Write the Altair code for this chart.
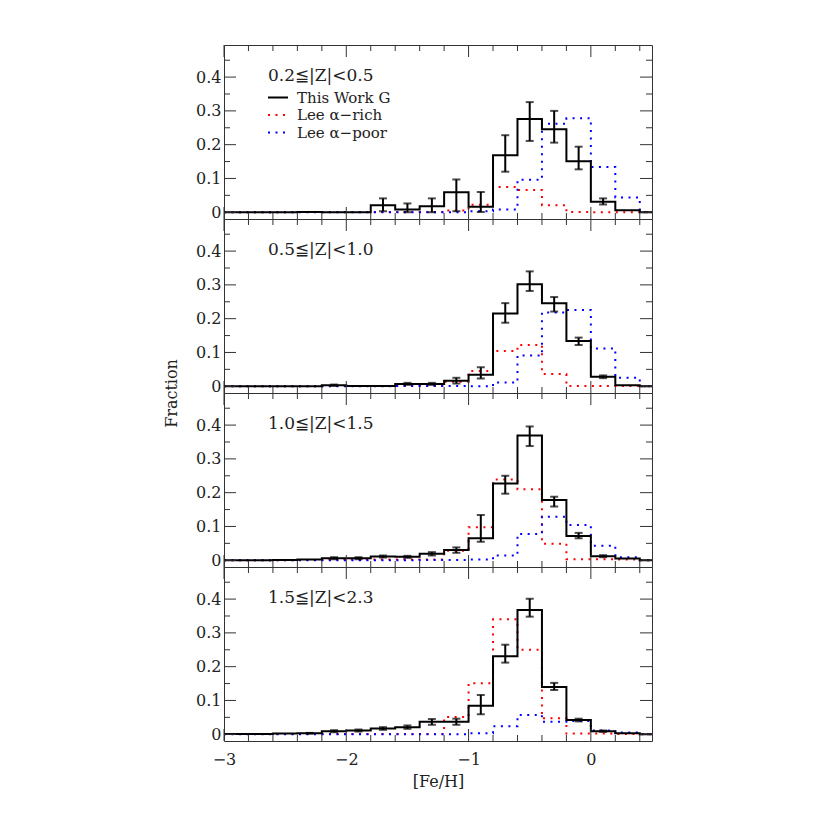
import altair as alt
import pandas as pd

# ---------------- data ----------------
bin_left = [-3.0, -2.8, -2.6, -2.4, -2.2, -2.0, -1.8, -1.6, -1.4, -1.2,
            -1.0, -0.8, -0.6, -0.4, -0.2, 0.0, 0.2]
bin_width = 0.2
x_end = [0.4, 0.5]

panel_labels = ["0.2≦|Z|<0.5", "0.5≦|Z|<1.0", "1.0≦|Z|<1.5", "1.5≦|Z|<2.3"]

work_g = [
    [0, 0, 0, 0.001, 0, 0, 0.021, 0.008, 0.018, 0.059, 0.016, 0.169, 0.276, 0.246, 0.151, 0.031, 0.006],
    [0, 0, 0, 0, 0.003, 0.001, 0.001, 0.007, 0.007, 0.016, 0.034, 0.215, 0.302, 0.246, 0.134, 0.028, 0.003],
    [0, 0, 0.001, 0.002, 0.006, 0.006, 0.011, 0.010, 0.019, 0.030, 0.065, 0.227, 0.369, 0.178, 0.072, 0.012, 0.005],
    [0.001, 0.001, 0.002, 0.003, 0.009, 0.011, 0.017, 0.021, 0.037, 0.037, 0.084, 0.231, 0.368, 0.140, 0.042, 0.009, 0.003],
]
err_lo = [
    [None] * 6 + [0.003, 0.0, 0.0, 0.003, 0.001, 0.120, 0.211, 0.206, 0.127, 0.023, None],
    [None] * 4 + [0.001, None, None, 0.004, 0.004, 0.008, 0.023, 0.188, 0.282, 0.221, 0.122, 0.024, None],
    [None] * 4 + [0.003, 0.003, 0.008, 0.007, 0.014, 0.022, 0.055, 0.197, 0.338, 0.159, 0.065, 0.009, None],
    [None] * 3 + [0.002, 0.006, 0.008, 0.013, 0.016, 0.028, 0.028, 0.059, 0.212, 0.348, 0.131, 0.038, 0.007, None],
]
err_hi = [
    [None] * 6 + [0.041, 0.026, 0.041, 0.097, 0.060, 0.228, 0.326, 0.300, 0.194, 0.041, None],
    [None] * 4 + [0.005, None, None, 0.010, 0.010, 0.025, 0.056, 0.246, 0.340, 0.264, 0.144, 0.032, None],
    [None] * 4 + [0.009, 0.009, 0.014, 0.013, 0.024, 0.038, 0.134, 0.250, 0.396, 0.188, 0.081, 0.015, None],
    [None] * 3 + [0.004, 0.012, 0.014, 0.021, 0.026, 0.045, 0.046, 0.116, 0.265, 0.401, 0.152, 0.046, 0.011, None],
]
lee_rich = [
    [0, 0, 0, 0.001, 0.001, 0.001, 0.001, 0.001, 0.001, 0.005, 0.022, 0.075, 0.066, 0.021, 0.001, 0, 0],
    [0, 0, 0, 0, 0.001, 0.001, 0.001, 0.001, 0.001, 0.013, 0.045, 0.104, 0.122, 0.036, 0.001, 0.001, 0.001],
    [0, 0, 0, 0.001, 0.002, 0.002, 0.002, 0.002, 0.002, 0.028, 0.098, 0.239, 0.210, 0.049, 0.003, 0.003, 0.002],
    [0.001, 0.001, 0.001, 0.001, 0.001, 0.001, 0.001, 0.001, 0.001, 0.051, 0.151, 0.340, 0.250, 0.047, 0.002, 0.002, 0.001],
]
lee_poor = [
    [0, 0, 0, 0, 0, 0, 0, 0, 0, 0, 0.003, 0.008, 0.096, 0.262, 0.278, 0.134, 0.044],
    [0, 0, 0, 0, 0, 0, 0, 0.001, 0.001, 0.001, 0, 0.011, 0.091, 0.218, 0.226, 0.112, 0.025],
    [0, 0, 0, 0, 0, 0, 0, 0, 0.001, 0.001, 0.002, 0.014, 0.078, 0.129, 0.104, 0.043, 0.009],
    [0, 0, 0, 0, 0, 0, 0, 0, 0, 0, 0.003, 0.024, 0.057, 0.037, 0.039, 0.011, 0.005],
]

legend_names = ["This Work G", "Lee α−rich", "Lee α−poor"]

x_major = [-3, -2, -1, 0]
x_minor = [-2.8, -2.6, -2.4, -2.2, -1.8, -1.6, -1.4, -1.2, -0.8, -0.6, -0.4, -0.2, 0.2, 0.4]
y_major = [0, 0.1, 0.2, 0.3, 0.4]
y_minor = [0.05, 0.15, 0.25, 0.35, 0.45]

# ---------------- styling ----------------
W, H = 428, 174
FONT = "DejaVu Serif"
FS = 16      # tick labels / axis titles
FS_TXT = 17  # panel labels
FS_LEG = 15  # legend entries
TXT = "#222"
XDOM = [-3, 0.5]
YDOM = [-0.02, 0.495]
RED = "#ff0000"
BLUE = "#0000ff"
DOT = [2, 5.5]
MAJ, MIN = 12, 6


def step_df(vals):
    xs = bin_left + x_end
    ys = list(vals) + [0, 0]
    return pd.DataFrame({"x": xs, "y": ys})


def panel(i, bottom):
    xscale = alt.Scale(domain=XDOM, nice=False, zero=False)
    yscale = alt.Scale(domain=YDOM, nice=False, zero=False)
    if bottom:
        xaxis = alt.Axis(values=x_major, format="d", ticks=False, domain=False, grid=False,
                         labelFlush=False,
                         labelFont=FONT, labelFontSize=FS, labelColor=TXT, labelPadding=10,
                         title="[Fe/H]", titleFont=FONT, titleFontSize=FS, titleFontWeight="normal",
                         titleColor=TXT, titlePadding=6)
    else:
        xaxis = None
    yaxis_kw = dict(values=y_major, ticks=False, domain=False, grid=False, labelFlush=False,
                    labelExpr="datum.value == 0 ? '0' : format(datum.value, '.1f')",
                    labelFont=FONT, labelFontSize=FS, labelColor=TXT, labelPadding=3)
    if i == 1:
        yaxis = alt.Axis(title="Fraction", titleFont=FONT, titleFontSize=FS, titleFontWeight="normal",
                         titleColor=TXT, titleY=H, titlePadding=16, **yaxis_kw)
    else:
        yaxis = alt.Axis(title=None, **yaxis_kw)

    X = lambda f: alt.X(f, type="quantitative", scale=xscale, axis=xaxis)
    Y = lambda f: alt.Y(f, type="quantitative", scale=yscale, axis=yaxis)

    layers = []
    layers.append(alt.Chart(step_df(lee_rich[i])).mark_line(
        interpolate="step-after", color=RED, strokeWidth=2, strokeDash=DOT, strokeCap="butt"
    ).encode(x=X("x"), y=Y("y")))
    layers.append(alt.Chart(step_df(lee_poor[i])).mark_line(
        interpolate="step-after", color=BLUE, strokeWidth=2, strokeDash=DOT, strokeCap="butt"
    ).encode(x=X("x"), y=Y("y")))
    layers.append(alt.Chart(step_df(work_g[i])).mark_line(
        interpolate="step-after", color="black", strokeWidth=2
    ).encode(x=X("x"), y=Y("y")))

    eb = pd.DataFrame({
        "c": [round(b + bin_width / 2, 2) for b in bin_left],
        "lo": err_lo[i], "hi": err_hi[i],
    }).dropna()
    layers.append(alt.Chart(eb).mark_rule(color="black", strokeWidth=2).encode(
        x=X("c"), y=Y("lo"), y2="hi"))
    layers.append(alt.Chart(eb).mark_tick(color="black", orient="horizontal", size=8, thickness=2).encode(
        x=X("c"), y=Y("lo")))
    layers.append(alt.Chart(eb).mark_tick(color="black", orient="horizontal", size=8, thickness=2).encode(
        x=X("c"), y=Y("hi")))

    # inward ticks on all four sides
    tick_col = "#333"
    xt_maj = pd.DataFrame({"x": x_major})
    xt_min = pd.DataFrame({"x": x_minor})
    yt_maj = pd.DataFrame({"y": y_major})
    yt_min = pd.DataFrame({"y": y_minor})
    for d, L in ((xt_maj, MAJ), (xt_min, MIN)):
        layers.append(alt.Chart(d).mark_rule(color=tick_col, strokeWidth=1).encode(
            x=X("x"), y=alt.value(H), y2=alt.value(H - L)))
        layers.append(alt.Chart(d).mark_rule(color=tick_col, strokeWidth=1).encode(
            x=X("x"), y=alt.value(0), y2=alt.value(L)))
    for d, L in ((yt_maj, MAJ), (yt_min, MIN)):
        layers.append(alt.Chart(d).mark_rule(color=tick_col, strokeWidth=1).encode(
            y=Y("y"), x=alt.value(0), x2=alt.value(L)))
        layers.append(alt.Chart(d).mark_rule(color=tick_col, strokeWidth=1).encode(
            y=Y("y"), x=alt.value(W), x2=alt.value(W - L)))

    # panel label
    layers.append(alt.Chart(pd.DataFrame({"t": [panel_labels[i]]})).mark_text(
        align="left", baseline="middle", font=FONT, fontSize=FS_TXT, color=TXT
    ).encode(x=alt.value(44), y=alt.value(31), text="t:N"))

    if i == 0:
        styles = [("black", None), (RED, DOT), (BLUE, DOT)]
        ys = [52.5, 70, 87.5]
        for name, (col, dash), yy in zip(legend_names, styles, ys):
            kw = dict(color=col, strokeWidth=2)
            if dash:
                kw["strokeDash"] = dash
                kw["strokeCap"] = "butt"
            layers.append(alt.Chart(pd.DataFrame({"t": [name]})).mark_rule(**kw).encode(
                x=alt.value(44), x2=alt.value(64), y=alt.value(yy)))
            layers.append(alt.Chart(pd.DataFrame({"t": [name]})).mark_text(
                align="left", baseline="middle", font=FONT, fontSize=FS_LEG, color=TXT
            ).encode(x=alt.value(73), y=alt.value(yy), text="t:N"))

    return alt.layer(*layers).properties(width=W, height=H)


chart = alt.vconcat(*[panel(i, i == 3) for i in range(4)], spacing=0, bounds="flush").configure_view(
    stroke="#333", strokeWidth=1
).properties(padding={"left": 155, "top": 36, "right": 10, "bottom": 10})

chart.save("out.html", embed_options={"renderer": "svg", "actions": False})
